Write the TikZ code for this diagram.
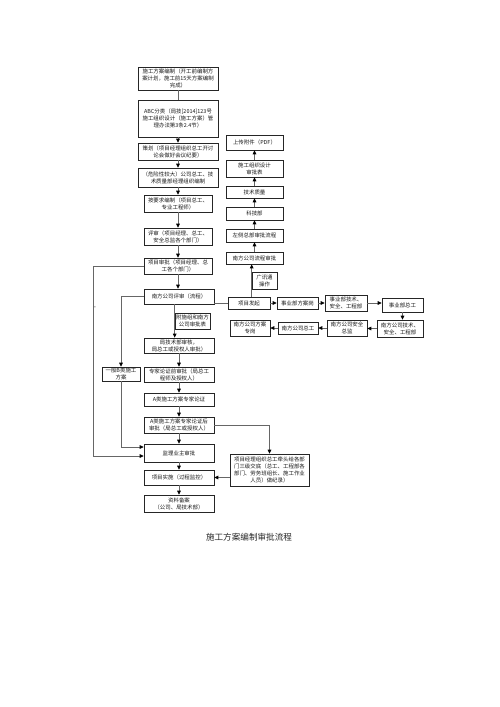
\documentclass[tikz,border=0pt]{standalone}
\usepackage{fontspec}
\newfontfamily\cjk{Noto Sans CJK SC}
\usetikzlibrary{arrows.meta,calc}
\newcommand\mybox[6]{%
 \pgfmathsetmacro\bw{#4-#2}\pgfmathsetmacro\bh{#5-#3}%
 \pgfmathsetmacro\bcx{(#2+#4)/2}\pgfmathsetmacro\bcy{(#3+#5)/2}%
 \node[box, minimum width=\bw pt, minimum height=\bh pt] (#1) at (\bcx,\bcy) {#6};}
\begin{document}
\begin{tikzpicture}[x=1pt,y=-1pt,
 box/.style={draw=black!85, line width=0.65pt, inner sep=0.5pt, align=center, font=\cjk\fontsize{5.45}{7}\selectfont, text=black!90},
 arr/.style={draw=black!60, line width=0.75pt, -{Triangle[length=4pt,width=3.6pt,color=black]}},
 ln/.style={draw=black!60, line width=0.75pt}]
\useasboundingbox (0,0) rectangle (500,707);
% left column
\mybox{A}{138}{67}{218}{90}{施工方案编制（开工前编制方\\案计划，施工前15天方案编制\\完成）}
\mybox{B}{138}{100}{218}{137}{ABC分类（局技[2014]123号\\施工组织设计（施工方案）管\\理办法第3条2.4节）}
\mybox{C}{138}{143}{218}{160}{策划（项目经理组织总工开讨\\论会做好会议纪要）}
\mybox{D}{138}{168}{218}{187}{（危险性较大）公司总工、技\\术质量部经理组织编制}
\mybox{E}{144}{195}{212}{212}{按要求编制（项目总工、\\专业工程师）}
\mybox{F}{144}{228}{212}{245}{评审（项目经理、总工、\\安全总监各个部门）}
\mybox{G}{144}{258}{212}{274}{项目审批（项目经理、总\\工各个部门）}
\mybox{H}{144}{289}{214}{304}{南方公司评审（流程）}
\mybox{I}{175}{313}{210}{329}{附施组和南方\\公司审批表}
\mybox{J}{144}{338}{214}{353}{局技术部审核，\\局总工或授权人审批）}
\mybox{K}{144}{367}{214}{382}{专家论证前审批（局总工\\程师及授权人）}
\mybox{L}{144}{393}{214}{406}{A类施工方案专家论证}
\mybox{M}{144}{417}{214}{433}{A类施工方案专家论证后\\审批（局总工或授权人）}
\mybox{N}{144}{444}{214}{462}{监理业主审批}
\mybox{O}{144}{470}{214}{485}{项目实施（过程监控）}
\mybox{P}{144}{495}{214}{512}{资料备案\\（公司、局技术部）}
\mybox{Q}{102}{367}{140}{381}{一般B类施工\\方案}
\mybox{R}{230}{454}{309}{486}{项目经理组织总工牵头给各部\\门三级交底（总工、工程部各\\部门、劳务班组长、施工作业\\人员）做纪录）}
% right column
\mybox{SC}{226}{135}{283}{150}{上传附件（PDF）}
\mybox{SP}{226}{160}{283}{177}{施工组织设计\\审批表}
\mybox{JS}{226}{186}{283}{198}{技术质量}
\mybox{KJ}{226}{207}{283}{220}{科技部}
\mybox{ZC}{226}{229}{283}{242}{左侧总部审批流程}
\mybox{NFL}{226}{252}{283}{264}{南方公司流程审批}
\mybox{GX}{252}{272}{277}{289}{广讯通\\操作}
\mybox{PF}{228}{297}{270}{309}{项目发起}
\mybox{SYa}{277}{297}{318}{309}{事业部方案岗}
\mybox{SYb}{325}{295}{367}{311}{事业部技术、\\安全、工程部}
\mybox{SYc}{382}{298}{423}{312}{事业部总工}
\mybox{NFd}{377}{320}{423}{337}{南方公司技术、\\安全、工程部}
\mybox{NFc}{327}{320}{367}{336}{南方公司安全\\总监}
\mybox{NFb}{278}{322}{318}{334}{南方公司总工}
\mybox{NFa}{230}{320}{270}{336}{南方公司方案\\专岗}
% main chain
\draw[ln] (A.south) -- (A.south |- B.north);
\foreach \u/\v in {B/C,C/D,D/E,E/F,F/G,G/H,J/K,K/L,L/M,M/N,N/O,O/P}
  \draw[arr] (\u.south) -- (\u.south |- \v.north);
\draw[arr] (H.south -| I.west) -- (J.north -| I.west);
% left bypasses
\coordinate (FL) at (93,0);
\draw[arr] (G.west) -- (G.west -| FL) |- ($(N.west)+(0,3)$);
\draw[arr] (H.west) -| (Q.north);
\draw[arr] (Q.south) |- ($(N.west)+(0,-6)$);
\node[font=\fontsize{5}{5}\selectfont, inner sep=0pt] (dash) at (95,308) {-};
% right side
\draw[ln] (PF.west) -- (PF.west -| H.east);
\draw[arr] (PF.north -| GX.west) -- (NFL.south -| GX.west);
\draw[arr] (NFL.north) -- (ZC.south);
\draw[arr] (ZC.north) -- (KJ.south);
\draw[arr] (KJ.north) -- (JS.south);
\draw[arr] (JS.north) -- (SP.south);
\draw[arr] (SP.north) -- (SC.south);
\draw[arr] (PF.east) -- (SYa.west);
\draw[arr] (SYa.east) -- (SYa.east -| SYb.west);
\draw[arr] (SYb.east) -- (SYb.east -| SYc.west);
\draw[arr] (SYc.south) -- (SYc.south |- NFd.north);
\draw[arr] (NFd.west) -- (NFd.west -| NFc.east);
\draw[arr] (NFc.west) -- (NFc.west -| NFb.east);
\draw[arr] (NFb.west) -- (NFb.west -| NFa.east);
% lower right
\draw[arr] (M.east) -| (R.north);
\draw[arr] (O.east -| R.west) -- (O.east);
% caption
\node[font=\cjk\fontsize{8.6}{10}\selectfont, text=black!85] (cap) at (249,537) {施工方案编制审批流程};
\end{tikzpicture}
\end{document}
